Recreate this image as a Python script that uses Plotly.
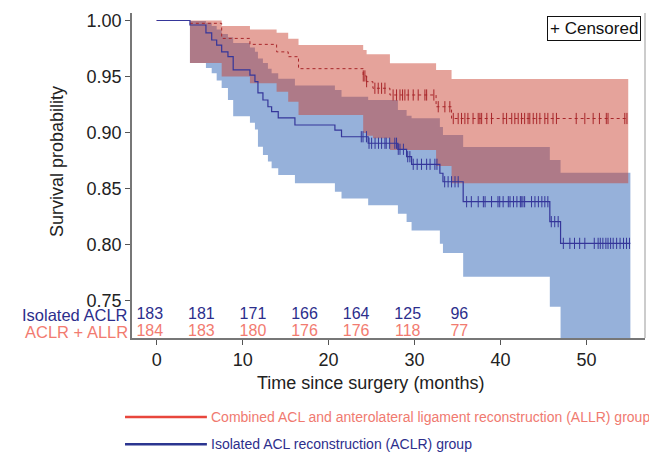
import plotly.graph_objects as go

FONT = "Liberation Sans, Arial, sans-serif"

# ---------------- data ----------------
# Isolated ACLR group (Kaplan-Meier estimate and 95% CI)
blue_t = [0, 3.87, 5.73, 6.4, 6.98, 7.56, 8.29, 8.9, 10.85, 11.43, 11.78, 12.36, 12.94, 13.37,
          14.14, 16.08, 20.73, 21.5, 24.6, 28.06, 29.07, 29.65, 32.94, 33.3, 35.65, 45.73, 46.98, 55.1]
blue_s = [1.0, 0.996, 0.989, 0.9826, 0.978, 0.972, 0.9677, 0.956, 0.9513, 0.9454, 0.9353, 0.929,
          0.923, 0.9186, 0.913, 0.9067, 0.9022, 0.8962, 0.8904, 0.885, 0.8784, 0.8716, 0.8636,
          0.856, 0.8382, 0.8204, 0.801, 0.801]
blue_up = [1.0, 0.9995, 0.998, 0.995, 0.992, 0.988, 0.985, 0.980, 0.976, 0.972, 0.966, 0.962,
           0.957, 0.953, 0.948, 0.942, 0.938, 0.932, 0.929, 0.920, 0.915, 0.9127, 0.905, 0.8978,
           0.887, 0.8754, 0.864, 0.864]
blue_lo = [1.0, 0.962, 0.9575, 0.953, 0.9465, 0.9397, 0.929, 0.9145, 0.9086, 0.9027, 0.8872,
           0.8798, 0.874, 0.868, 0.862, 0.8546, 0.847, 0.841, 0.835, 0.8275, 0.820, 0.8125,
           0.8007, 0.7924, 0.7712, 0.7444, 0.70, 0.70]
blue_cens = [23.8, 24.0, 24.4, 24.7, 25.0, 25.4, 25.8, 26.16, 26.55, 26.7, 27.1, 27.7, 27.9,
             28.1, 28.3, 28.7, 29.2, 29.45, 29.84, 30.3, 30.8, 31.4, 31.8, 32.36, 32.6, 33.5,
             33.9, 34.3, 34.7, 35.07, 36.05, 36.6, 37.4, 38.0, 38.2, 38.95, 39.7, 39.9, 40.3,
             40.9, 41.1, 41.5, 41.9, 42.3, 42.4, 42.6, 42.8, 43.6, 44.0, 44.4, 44.8, 45.15,
             45.5, 45.9, 46.3, 46.7, 47.3, 48.06, 48.6, 49.2, 49.8, 50.9, 51.35, 51.6, 51.9,
             52.25, 52.5, 52.8, 53.1, 53.5, 53.9, 54.3, 54.65, 55.0]

# Combined ACLR + ALLR group
red_t = [0, 3.87, 7.56, 10.85, 13.95, 15.3, 16.5, 24.02, 24.42, 25.15, 27.13, 32.5, 34.3, 54.85]
red_s = [1.0, 0.9975, 0.984, 0.9787, 0.972, 0.9677, 0.957, 0.9505, 0.9454, 0.9395, 0.9335,
         0.923, 0.9125, 0.9125]
red_up = [1.0, 1.0, 0.995, 0.992, 0.989, 0.9837, 0.9781, 0.9737, 0.9698, 0.9698, 0.9618,
          0.9558, 0.9478, 0.9478]
red_lo = [1.0, 0.962, 0.950, 0.944, 0.9364, 0.9275, 0.9156, 0.8995, 0.897, 0.8948, 0.8844,
          0.870, 0.8546, 0.8546]
red_cens = [24.03, 24.22, 24.42, 25.38, 25.77, 26.16, 26.55, 27.5, 27.9, 28.3, 28.6, 28.87,
            29.26, 29.84, 30.42, 31.2, 31.4, 32.24, 32.75, 33.52, 34.1, 34.5, 35.07, 35.46,
            35.85, 36.2, 36.8, 37.4, 37.6, 37.8, 38.4, 38.95, 40.3, 40.7, 41.3, 41.66, 42.05,
            42.44, 42.8, 43.2, 43.4, 43.8, 44.2, 44.57, 45.15, 45.5, 46.1, 46.5, 48.8, 49.8,
            50.77, 51.5, 52.3, 52.5, 54.45, 54.7]

# Number at risk
risk_times = [0, 6, 12, 18, 24, 30, 36]
risk_blue = [183, 181, 171, 166, 164, 125, 96]
risk_red = [184, 183, 180, 176, 176, 118, 77]

x_ticks = [0, 10, 20, 30, 40, 50]
y_ticks = [0.75, 0.80, 0.85, 0.90, 0.95, 1.00]


def step_at(ts, vs, t):
    v = vs[0]
    for ti, vi in zip(ts, vs):
        if ti <= t:
            v = vi
        else:
            break
    return v


BLUE_FILL = "rgba(100,140,200,0.68)"
RED_FILL = "rgba(200,62,45,0.48)"
BLUE_LINE = "#35369a"
RED_LINE = "#a8262a"

fig = go.Figure()

# blue CI band
fig.add_trace(go.Scatter(x=blue_t, y=blue_up, mode="lines", line=dict(width=0, shape="hv"),
                         hoverinfo="skip", showlegend=False))
fig.add_trace(go.Scatter(x=blue_t, y=blue_lo, mode="lines", line=dict(width=0, shape="hv"),
                         fill="tonexty", fillcolor=BLUE_FILL, hoverinfo="skip", showlegend=False))
# red CI band
fig.add_trace(go.Scatter(x=red_t, y=red_up, mode="lines", line=dict(width=0, shape="hv"),
                         hoverinfo="skip", showlegend=False))
fig.add_trace(go.Scatter(x=red_t, y=red_lo, mode="lines", line=dict(width=0, shape="hv"),
                         fill="tonexty", fillcolor=RED_FILL, hoverinfo="skip", showlegend=False))

# KM curves
fig.add_trace(go.Scatter(x=red_t, y=red_s, mode="lines",
                         line=dict(color=RED_LINE, width=1, shape="hv", dash="dot"),
                         name="Combined ACL and anterolateral ligament reconstruction (ALLR) group",
                         showlegend=False))
fig.add_trace(go.Scatter(x=red_cens, y=[step_at(red_t, red_s, t) for t in red_cens],
                         mode="markers",
                         marker=dict(symbol="line-ns", size=8,
                                     line=dict(color=RED_LINE, width=1)),
                         showlegend=False, hoverinfo="x+y"))
fig.add_trace(go.Scatter(x=blue_t, y=blue_s, mode="lines",
                         line=dict(color=BLUE_LINE, width=1.2, shape="hv"),
                         name="Isolated ACL reconstruction (ACLR) group", showlegend=False))
fig.add_trace(go.Scatter(x=blue_cens, y=[step_at(blue_t, blue_s, t) for t in blue_cens],
                         mode="markers",
                         marker=dict(symbol="line-ns", size=8,
                                     line=dict(color=BLUE_LINE, width=1)),
                         showlegend=False, hoverinfo="x+y"))

# number at risk rows
fig.add_trace(go.Scatter(x=[t - 0.8 for t in risk_times], y=[0.7371] * len(risk_times),
                         mode="text", text=[str(v) for v in risk_blue],
                         textfont=dict(family=FONT, size=16, color="#2c2e8c"),
                         cliponaxis=False, showlegend=False, hoverinfo="skip"))
fig.add_trace(go.Scatter(x=[t - 0.8 for t in risk_times], y=[0.7222] * len(risk_times),
                         mode="text", text=[str(v) for v in risk_red],
                         textfont=dict(family=FONT, size=16, color="#f27b70"),
                         cliponaxis=False, showlegend=False, hoverinfo="skip"))

annotations = [
    dict(text="Survival probability", xref="paper", yref="paper", x=-0.146, y=0.5415,
         textangle=-90, showarrow=False, font=dict(family=FONT, size=18, color="#222"),
         xanchor="center", yanchor="middle"),
    dict(text="Time since surgery (months)", xref="paper", yref="paper", x=0.464, y=-0.138,
         showarrow=False, font=dict(family=FONT, size=18, color="#222"),
         xanchor="center", yanchor="middle"),
    dict(text="Isolated ACLR", xref="paper", yref="y", x=-0.006, y=0.7371, showarrow=False,
         font=dict(family=FONT, size=16.5, color="#2c2e8c"), xanchor="right", yanchor="middle",
         borderpad=0),
    dict(text="ACLR + ALLR", xref="paper", yref="y", x=-0.006, y=0.7222, showarrow=False,
         font=dict(family=FONT, size=16.5, color="#f27b70"), xanchor="right", yanchor="middle",
         borderpad=0),
    dict(text="+ Censored", xref="paper", yref="paper", x=0.992, y=0.991, showarrow=False,
         font=dict(family=FONT, size=17, color="#111"), xanchor="right", yanchor="top",
         bordercolor="#111", borderwidth=1, borderpad=2, bgcolor="white"),
    dict(text="Combined ACL and anterolateral ligament reconstruction (ALLR) group",
         xref="paper", yref="paper", x=0.150, y=-0.243, showarrow=False,
         font=dict(family=FONT, size=14, color="#f07a70"), xanchor="left", yanchor="middle"),
    dict(text="Isolated ACL reconstruction (ACLR) group",
         xref="paper", yref="paper", x=0.150, y=-0.327, showarrow=False,
         font=dict(family=FONT, size=14, color="#2c2e8c"), xanchor="left", yanchor="middle"),
]

shapes = [
    dict(type="line", xref="paper", yref="paper", x0=1, x1=1, y0=0, y1=1,
         line=dict(color="#999", width=1)),
    dict(type="line", xref="paper", yref="paper", x0=-0.0136, x1=0.146, y0=-0.243, y1=-0.243,
         line=dict(color="#e8463c", width=2.5)),
    dict(type="line", xref="paper", yref="paper", x0=-0.0136, x1=0.146, y0=-0.327, y1=-0.327,
         line=dict(color="#2b3590", width=2.5)),
]

fig.update_layout(
    width=649, height=452,
    margin=dict(l=132, r=4, t=13, b=114),
    plot_bgcolor="white", paper_bgcolor="white",
    showlegend=False,
    font=dict(family=FONT, size=18, color="#222"),
    annotations=annotations,
    shapes=shapes,
)
fig.update_xaxes(range=[-2.87, 56.8], tickvals=x_ticks, ticks="outside", ticklen=5,
                 tickcolor="#555", showline=True, linecolor="#777", linewidth=1.5,
                 showgrid=False, zeroline=False, tickfont=dict(family=FONT, size=18, color="#222"))
fig.update_yaxes(range=[0.7165, 1.0067], tickvals=y_ticks,
                 ticktext=["%.2f" % v for v in y_ticks], ticks="outside", ticklen=5,
                 tickcolor="#555", showline=True, linecolor="#777", linewidth=1.5,
                 showgrid=False, zeroline=False, tickfont=dict(family=FONT, size=18, color="#222"))

fig.write_html("out.html", config={"displayModeBar": False},
               post_script="document.body.style.margin='0';document.body.style.overflow='hidden';")
